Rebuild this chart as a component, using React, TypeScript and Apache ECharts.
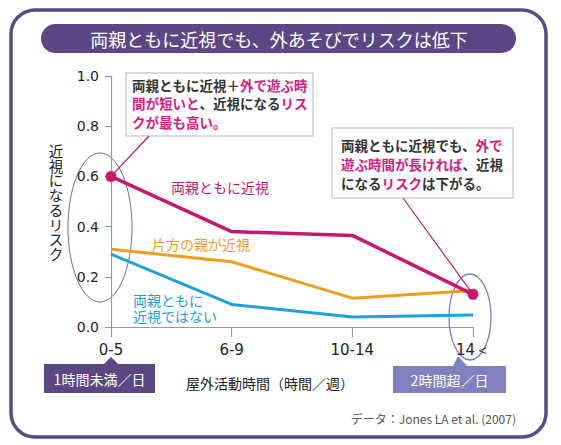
import { useEffect, useRef } from 'react'
import * as echarts from 'echarts'

// outdoor activity (hours/week)
const categories = ['0-5', '6-9', '10-14', '14＜']
// risk of myopia
const bothParents = [0.6, 0.38, 0.365, 0.13]
const oneParent = [0.31, 0.26, 0.115, 0.145]
const noParent = [0.29, 0.09, 0.04, 0.048]
// points that carry a marker on the "both parents" line
const markedPoints = [0, 3]
const yAxisName = '近視になるリスク'

const PINK = '#c8186e'
const HILITE = '#d81b7d'
const ORANGE = '#f29c1f'
const BLUE = '#1ea0dc'
const PURPLE = '#5c4785'
const JP = '"Noto Sans CJK JP", "Noto Sans", sans-serif'

export default function App() {
  const ref = useRef<HTMLDivElement>(null)

  useEffect(() => {
    if (!ref.current) return
    const chart = echarts.init(ref.current, null, { renderer: 'svg' })

    chart.setOption({
      animation: false,
      grid: { left: 111, right: 88, top: 76, bottom: 118, containLabel: false },
      xAxis: {
        type: 'category',
        data: categories,
        boundaryGap: false,
        axisLine: { lineStyle: { color: '#999', width: 1.2 } },
        axisTick: { show: true, length: 10, lineStyle: { color: '#999', width: 1.2 } },
        axisLabel: { color: '#222', fontSize: 15, fontFamily: '"DejaVu Sans", sans-serif', margin: 15 },
      },
      yAxis: {
        type: 'value',
        min: 0,
        max: 1,
        interval: 0.2,
        splitLine: { show: false },
        axisLine: { show: true, lineStyle: { color: '#999', width: 1.2 } },
        axisTick: { show: true, length: 6, lineStyle: { color: '#999', width: 1.2 } },
        axisLabel: {
          color: '#222',
          fontSize: 14,
          fontFamily: '"DejaVu Sans", sans-serif',
          margin: 12,
          formatter: (v: number) => v.toFixed(1),
        },
      },
      series: [
        {
          type: 'line',
          data: noParent,
          symbol: 'none',
          lineStyle: { color: BLUE, width: 3 },
          z: 3,
        },
        {
          type: 'line',
          data: oneParent,
          symbol: 'none',
          lineStyle: { color: ORANGE, width: 3 },
          z: 4,
        },
        {
          type: 'line',
          data: bothParents.map((v, i) =>
            markedPoints.includes(i) ? { value: v, symbol: 'circle', symbolSize: 11 } : { value: v, symbol: 'none' }
          ),
          itemStyle: { color: PINK },
          lineStyle: { color: PINK, width: 3.5 },
          z: 5,
        },
      ],
    })

    const px = (i: number, v: number) => chart.convertToPixel({ gridIndex: 0 }, [i, v]) as number[]
    const p0 = px(0, bothParents[0])
    const p3 = px(3, bothParents[3])
    const xBase0 = px(0, 0)
    const xBase3 = px(3, 0)

    // vertical y-axis name, one upright character per element
    const yNameChars = yAxisName.split('').map((ch, i) => ({
      type: 'text',
      x: 56,
      y: 150.5 + i * 14.7,
      style: {
        text: ch,
        fill: '#222',
        font: `14.5px ${JP}`,
        lineHeight: 14.5,
        align: 'center',
        verticalAlign: 'middle',
      },
    }))

    chart.setOption({
      graphic: [
        // frame
        {
          type: 'rect',
          z: -10,
          shape: { x: 11, y: 10, width: 535, height: 427, r: 24 },
          style: { fill: '#fff', stroke: '#5c4a87', lineWidth: 3.5 },
        },
        // title bar
        {
          type: 'rect',
          z: -5,
          shape: { x: 41, y: 24, width: 475, height: 29, r: 14.5 },
          style: { fill: PURPLE },
        },
        {
          type: 'text',
          x: 279,
          y: 39,
          style: {
            text: '両親ともに近視でも、外あそびでリスクは低下',
            fill: '#fff',
            font: `18px ${JP}`,
            align: 'center',
            verticalAlign: 'middle',
          },
        },
        ...yNameChars,
        // ellipses
        {
          type: 'ellipse',
          shape: { cx: p0[0] - 11, cy: 227.5, rx: 32, ry: 74.5 },
          style: { fill: 'none', stroke: '#6e6c9e', lineWidth: 1 },
        },
        {
          type: 'ellipse',
          shape: { cx: p3[0] - 3, cy: 317, rx: 21, ry: 43 },
          style: { fill: 'none', stroke: '#7e7fbc', lineWidth: 1.3 },
        },
        // series labels
        {
          type: 'text',
          x: 171,
          y: 187,
          style: { text: '両親ともに近視', fill: PINK, font: `14px ${JP}`, verticalAlign: 'middle' },
        },
        {
          type: 'text',
          x: 152,
          y: 244,
          style: { text: '片方の親が近視', fill: ORANGE, font: `14px ${JP}`, verticalAlign: 'middle' },
        },
        {
          type: 'text',
          x: 133,
          y: 292,
          style: {
            text: '両親ともに\n近視ではない',
            fill: BLUE,
            font: `14px ${JP}`,
            lineHeight: 16,
            verticalAlign: 'top',
          },
        },
        // leader lines
        {
          type: 'line',
          z: 10,
          shape: { x1: 149, y1: 136, x2: p0[0], y2: p0[1] },
          style: { stroke: PINK, lineWidth: 1.2 },
        },
        {
          type: 'line',
          z: 10,
          shape: { x1: 403, y1: 198, x2: p3[0], y2: p3[1] },
          style: { stroke: PINK, lineWidth: 1.2 },
        },
        // annotation box 1
        {
          type: 'rect',
          shape: { x: 126, y: 73, width: 187, height: 63 },
          style: { fill: '#fff', stroke: '#cfcfcf', lineWidth: 1.5 },
        },
        {
          type: 'text',
          x: 132,
          y: 75.5,
          style: {
            text: '{k|両親ともに近視＋}{p|外で遊ぶ時}\n{p|間が短いと}{k|、近視になる}{p|リス}\n{p|クが最も高い。}',
            font: `bold 13.5px ${JP}`,
            lineHeight: 18.5,
            verticalAlign: 'top',
            rich: {
              k: { fill: '#333', font: `bold 13.5px ${JP}`, lineHeight: 18.5 },
              p: { fill: HILITE, font: `bold 13.5px ${JP}`, lineHeight: 18.5 },
            },
          },
        },
        // annotation box 2
        {
          type: 'rect',
          shape: { x: 332, y: 128, width: 181, height: 70 },
          style: { fill: '#fff', stroke: '#cfcfcf', lineWidth: 1.5 },
        },
        {
          type: 'text',
          x: 341,
          y: 135.5,
          style: {
            text: '{k|両親ともに近視でも、}{p|外で}\n{p|遊ぶ時間が長ければ}{k|、近視}\n{k|になる}{p|リスク}{k|は下がる。}',
            font: `bold 13.5px ${JP}`,
            lineHeight: 19,
            verticalAlign: 'top',
            rich: {
              k: { fill: '#333', font: `bold 13.5px ${JP}`, lineHeight: 19 },
              p: { fill: HILITE, font: `bold 13.5px ${JP}`, lineHeight: 19 },
            },
          },
        },
        // under-axis tag: < 1 h/day
        {
          type: 'polygon',
          shape: { points: [[xBase0[0] - 7, 364], [xBase0[0] + 7, 364], [xBase0[0], 357]] },
          style: { fill: PURPLE },
        },
        {
          type: 'rect',
          shape: { x: 44, y: 364, width: 111, height: 29 },
          style: { fill: PURPLE },
        },
        {
          type: 'text',
          x: 99.5,
          y: 378.5,
          style: { text: '1時間未満／日', fill: '#fff', font: `14px ${JP}`, align: 'center', verticalAlign: 'middle' },
        },
        // under-axis tag: > 2 h/day
        {
          type: 'polygon',
          shape: { points: [[xBase3[0] - 20, 366], [xBase3[0] - 6, 366], [xBase3[0] - 15, 356]] },
          style: { fill: '#7f80bd' },
        },
        {
          type: 'rect',
          shape: { x: 393, y: 366, width: 113, height: 27 },
          style: { fill: '#7f80bd' },
        },
        {
          type: 'text',
          x: 449.5,
          y: 379.5,
          style: { text: '2時間超／日', fill: '#fff', font: `14px ${JP}`, align: 'center', verticalAlign: 'middle' },
        },
        // x axis name
        {
          type: 'text',
          x: 270,
          y: 383,
          style: { text: '屋外活動時間（時間／週）', fill: '#222', font: `14px ${JP}`, align: 'center', verticalAlign: 'middle' },
        },
        // source
        {
          type: 'text',
          x: 516,
          y: 418,
          style: {
            text: 'データ：Jones LA et al. (2007)',
            fill: '#555',
            font: `12px ${JP}`,
            align: 'right',
            verticalAlign: 'middle',
          },
        },
      ],
    })

    return () => {
      chart.dispose()
    }
  }, [])

  return (
    <div
      ref={ref}
      style={{ position: 'absolute', left: 0, top: 0, width: 561, height: 445, background: '#fff' }}
    />
  )
}
